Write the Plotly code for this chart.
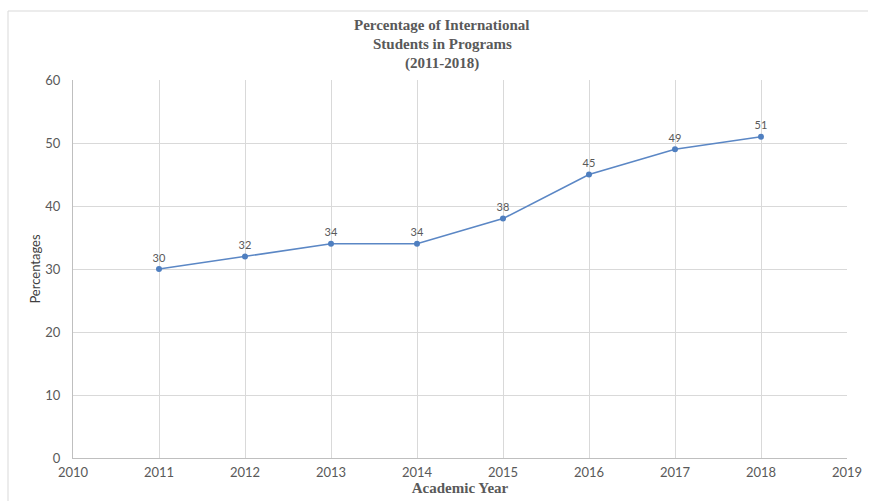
import plotly.graph_objects as go

# International student share by academic year
years = [2011, 2012, 2013, 2014, 2015, 2016, 2017, 2018]
percentages = [30, 32, 34, 34, 38, 45, 49, 51]
x_ticks = [2010, 2011, 2012, 2013, 2014, 2015, 2016, 2017, 2018, 2019]
y_ticks = [0, 10, 20, 30, 40, 50, 60]
title_lines = ["Percentage of International", "Students in Programs", "(2011-2018)"]

W, H = 869, 501
L, R, T, B = 73, 22, 80, 43
pw, ph = W - L - R, H - T - B


def px_x(px):
    return (px - L) / pw


def px_y(py):
    return (H - B - py) / ph


sans = "Lato, Carlito, Liberation Sans, sans-serif"
serif = "Liberation Serif, Times New Roman, serif"
label_font = dict(family=sans, size=13, color="#595959")

fig = go.Figure(
    go.Scatter(
        x=years,
        y=percentages,
        mode="lines+markers+text",
        text=[str(v) for v in percentages],
        textposition="top center",
        textfont=dict(family=sans, size=11, color="#595959"),
        line=dict(color="#5B87C5", width=1.6),
        marker=dict(color="#4F7FC0", size=6),
        cliponaxis=False,
        hoverinfo="skip",
    )
)

# Title drawn line by line for tight leading
title_annotations = [
    dict(
        text=f"<b>{line}</b>",
        font=dict(family=serif, size=15, color="#595959"),
        xref="paper", yref="paper",
        x=px_x(442), y=px_y(cy),
        xanchor="center", yanchor="middle",
        showarrow=False,
    )
    for line, cy in zip(title_lines, [25, 44, 63])
]

fig.update_layout(
    width=W,
    height=H,
    margin=dict(l=L, r=R, t=T, b=B, autoexpand=False),
    paper_bgcolor="white",
    plot_bgcolor="white",
    showlegend=False,
    annotations=title_annotations,
    xaxis=dict(
        range=[2010, 2019],
        tickvals=x_ticks,
        ticktext=[str(v) for v in x_ticks],
        showgrid=True,
        gridcolor="#D9D9D9",
        gridwidth=1,
        showline=True,
        linecolor="#BFBFBF",
        zeroline=False,
        ticks="",
        tickfont=label_font,
        ticklabelstandoff=2,
        automargin=False,
        title=dict(text="<b>Academic Year</b>",
                   font=dict(family=serif, size=15, color="#595959"),
                   standoff=3),
        fixedrange=True,
    ),
    yaxis=dict(
        range=[0, 60],
        tickvals=y_ticks,
        showgrid=True,
        gridcolor="#D9D9D9",
        gridwidth=1,
        showline=True,
        linecolor="#BFBFBF",
        zeroline=False,
        ticks="",
        tickfont=label_font,
        ticklabelstandoff=9,
        automargin=False,
        title=dict(text="Percentages",
                   font=dict(family=sans, size=13, color="#404040"),
                   standoff=1),
        fixedrange=True,
    ),
    shapes=[
        dict(type="line", xref="paper", yref="paper",
             x0=px_x(8), x1=px_x(868), y0=px_y(11), y1=px_y(11),
             line=dict(color="#D9D9D9", width=1)),
        dict(type="line", xref="paper", yref="paper",
             x0=px_x(8), x1=px_x(8), y0=px_y(11), y1=px_y(501),
             line=dict(color="#D9D9D9", width=1)),
    ],
)

fig.write_html("out.html")
